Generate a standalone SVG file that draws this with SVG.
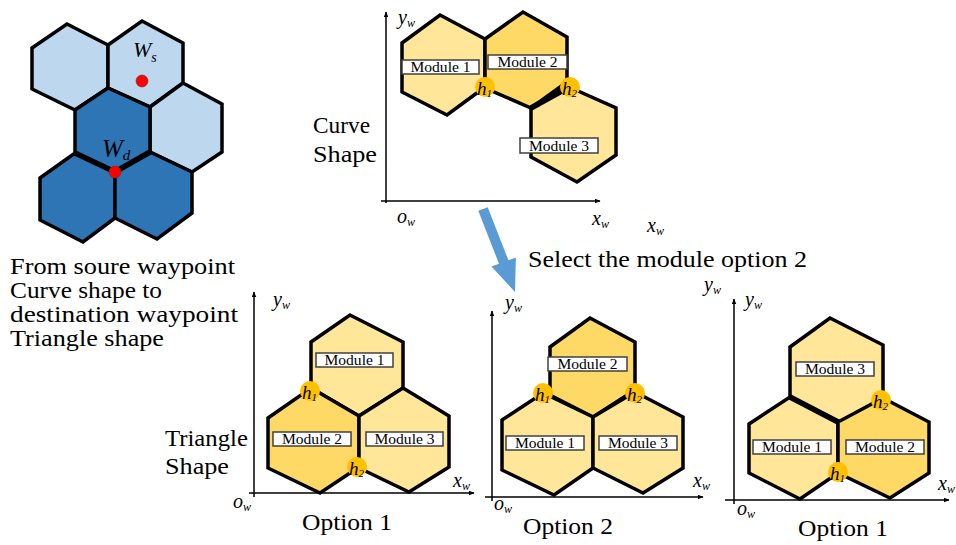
<svg xmlns="http://www.w3.org/2000/svg" width="956" height="545" viewBox="0 0 956 545">
  <style>
    .hexL { fill: #BDD7EE; stroke: #000; stroke-width: 3.5; stroke-linejoin: miter; }
    .hexD { fill: #2E75B6; stroke: #000; stroke-width: 3.5; stroke-linejoin: miter; }
    .modL { fill: #FFE699; stroke: #000; stroke-width: 3.5; stroke-linejoin: miter; }
    .modD { fill: #FFD966; stroke: #000; stroke-width: 3.5; stroke-linejoin: miter; }
    .thick { fill: none; stroke: #000; stroke-width: 5.5; stroke-linejoin: miter; }
    .box { fill: #fff; stroke: #404040; stroke-width: 1.5; }
    text { font-family: 'Liberation Serif', 'DejaVu Serif', serif; fill: #000; }
    .blab { font-size: 15.5px; text-anchor: middle; }
    .hc { fill: #FFC000; }
    .it { font-style: italic; }
    .hl { font-size: 19px; }
    .sub { font-size: 11px; }
    .ax { font-size: 20px; }
    .axs { font-size: 12px; }
    .axis { stroke: #000; stroke-width: 1.5; fill: none; marker-end: url(#tip); }
    .txt { font-size: 23px; }
    .dot { fill: #FF0000; stroke: #7a2a2a; stroke-width: 0.6; }
  </style>
  <defs>
    <marker id="tip" viewBox="0 0 10 8" refX="9" refY="4" markerWidth="6" markerHeight="5" markerUnits="userSpaceOnUse" orient="auto">
      <path d="M0,0 L10,4 L0,8 Z" fill="#000"/>
    </marker>
  </defs>

  <rect width="956" height="545" fill="#fff"/>

  <!-- waypoint map: source and destination cells -->
  <g id="waypoint-map">
    <polygon class="hexL" points="67,24 108,45 108,88 75,110 32,89 32,48"/>
    <polygon class="hexL" points="142,21 183,43 183,83 150,107 108,88 108,45"/>
    <polygon class="hexL" points="183,83 222,104 222,152 192,172 150,152 150,107"/>
    <polygon class="hexD" points="108,88 150,107 150,152 115,172 75,153 75,110"/>
    <polygon class="hexD" points="75,153 115,172 115,218 83,242 40,220 40,178"/>
    <polygon class="hexD" points="150,152 192,172 192,213 157,239 115,218 115,172"/>
    <polyline class="thick" points="75,153 115,172 150,152"/>
    <circle class="dot" cx="142" cy="81" r="6"/>
    <circle class="dot" cx="115" cy="172" r="6"/>
    <text class="it" x="133" y="57" font-size="22">W<tspan font-size="14" dy="5">s</tspan></text>
    <text class="it" x="102" y="157" font-size="25">W<tspan font-size="15" dy="3">d</tspan></text>
  </g>

  <g id="description">
    <text class="txt" x="10" y="274" textLength="225" lengthAdjust="spacingAndGlyphs">From soure waypoint</text>
    <text class="txt" x="10" y="298" textLength="152" lengthAdjust="spacingAndGlyphs">Curve shape to</text>
    <text class="txt" x="10" y="322" textLength="228" lengthAdjust="spacingAndGlyphs">destination waypoint</text>
    <text class="txt" x="10" y="346" textLength="154" lengthAdjust="spacingAndGlyphs">Triangle shape</text>
  </g>

  <!-- curve shape -->
  <g id="curve-shape">
    <line class="axis" x1="386" y1="203" x2="386" y2="12"/>
    <line class="axis" x1="381" y1="201" x2="600" y2="201"/>
    <text class="it ax" x="398" y="24">y<tspan class="axs" dy="3">w</tspan></text>
    <text class="it ax" x="397" y="223">o<tspan class="axs" dy="3">w</tspan></text>
    <text class="it ax" x="592" y="225">x<tspan class="axs" dy="3">w</tspan></text>
    <text class="txt" x="313" y="133" textLength="57" lengthAdjust="spacingAndGlyphs">Curve</text>
    <text class="txt" x="313" y="162" textLength="64" lengthAdjust="spacingAndGlyphs">Shape</text>
    <polygon class="modL" points="440,15 485,39 485,87 447,115 402,92 402,43"/>
    <polygon class="modD" points="485,39 523,12 567,37 567,82 531,108 485,88"/>
    <polygon class="modL" points="569,87 616,108 616,155 577,182 531,157 531,108"/>
    <line class="thick" x1="531" y1="108" x2="569" y2="87"/>
    <rect class="box" x="402" y="60" width="77" height="14"/>
    <text class="blab" x="440.5" y="72" textLength="60" lengthAdjust="spacingAndGlyphs">Module 1</text>
    <rect class="box" x="488" y="55" width="79" height="14"/>
    <text class="blab" x="527.5" y="67" textLength="60" lengthAdjust="spacingAndGlyphs">Module 2</text>
    <rect class="box" x="520" y="138" width="78" height="15"/>
    <text class="blab" x="559" y="150.5" textLength="60" lengthAdjust="spacingAndGlyphs">Module 3</text>
    <circle class="hc" cx="485" cy="87" r="10"/>
    <text class="it hl" x="477" y="95">h<tspan class="sub" dy="2">1</tspan></text>
    <circle class="hc" cx="570" cy="87" r="10"/>
    <text class="it hl" x="562" y="95">h<tspan class="sub" dy="2">2</tspan></text>
  </g>

  <text class="it ax" x="647" y="232">x<tspan class="axs" dy="3">w</tspan></text>
  <text class="txt" x="528" y="267" textLength="279" lengthAdjust="spacingAndGlyphs">Select the module option 2</text>
  <text class="it ax" x="704" y="291">y<tspan class="axs" dy="3">w</tspan></text>

  <!-- triangle shape, option 1 -->
  <g id="option-1-left">
    <line class="axis" x1="254" y1="497" x2="254" y2="292"/>
    <line class="axis" x1="249" y1="493" x2="474" y2="493"/>
    <text class="it ax" x="273" y="306">y<tspan class="axs" dy="3">w</tspan></text>
    <text class="it ax" x="453" y="487">x<tspan class="axs" dy="3">w</tspan></text>
    <text class="it ax" x="233" y="508">o<tspan class="axs" dy="3">w</tspan></text>
    <text class="txt" x="165" y="446" textLength="83" lengthAdjust="spacingAndGlyphs">Triangle</text>
    <text class="txt" x="165" y="474" textLength="64" lengthAdjust="spacingAndGlyphs">Shape</text>
    <polygon class="modL" points="350,315 403,342 403,388 359,416 311,388 311,342"/>
    <polygon class="modD" points="311,388 359,416 359,467 320,493 268,468 268,418"/>
    <polygon class="modL" points="403,388 449,416 449,467 409,492 359,468 359,416"/>
    <rect class="box" x="316" y="353" width="77" height="14"/>
    <text class="blab" x="354.5" y="365" textLength="60" lengthAdjust="spacingAndGlyphs">Module 1</text>
    <rect class="box" x="273" y="432" width="78" height="14"/>
    <text class="blab" x="312" y="444" textLength="60" lengthAdjust="spacingAndGlyphs">Module 2</text>
    <rect class="box" x="366" y="432" width="77" height="14"/>
    <text class="blab" x="404.5" y="444" textLength="60" lengthAdjust="spacingAndGlyphs">Module 3</text>
    <circle class="hc" cx="310" cy="391" r="10"/>
    <text class="it hl" x="302" y="399">h<tspan class="sub" dy="2">1</tspan></text>
    <circle class="hc" cx="357" cy="467" r="10"/>
    <text class="it hl" x="349" y="475">h<tspan class="sub" dy="2">2</tspan></text>
    <text class="txt" x="302" y="530" font-size="24" textLength="90" lengthAdjust="spacingAndGlyphs">Option 1</text>
  </g>

  <!-- triangle shape, option 2 -->
  <g id="option-2">
    <line class="axis" x1="492" y1="501" x2="492" y2="311"/>
    <line class="axis" x1="485" y1="497" x2="703" y2="497"/>
    <text class="it ax" x="505" y="309">y<tspan class="axs" dy="3">w</tspan></text>
    <text class="it ax" x="693" y="487">x<tspan class="axs" dy="3">w</tspan></text>
    <text class="it ax" x="494" y="510">o<tspan class="axs" dy="3">w</tspan></text>
    <polygon class="modD" points="590,318 635,342 635,390 593,417 550,395 550,347"/>
    <polygon class="modL" points="543,393 593,417 593,468 554,495 502,470 502,420"/>
    <polygon class="modL" points="635,392 683,417 683,468 643,493 593,468 593,417"/>
    <rect class="box" x="548" y="357" width="79" height="14"/>
    <text class="blab" x="587.5" y="369" textLength="60" lengthAdjust="spacingAndGlyphs">Module 2</text>
    <rect class="box" x="506" y="436" width="78" height="14"/>
    <text class="blab" x="545" y="448" textLength="60" lengthAdjust="spacingAndGlyphs">Module 1</text>
    <rect class="box" x="599" y="436" width="78" height="14"/>
    <text class="blab" x="638" y="448" textLength="60" lengthAdjust="spacingAndGlyphs">Module 3</text>
    <circle class="hc" cx="543" cy="393" r="10"/>
    <text class="it hl" x="535" y="401">h<tspan class="sub" dy="2">1</tspan></text>
    <circle class="hc" cx="635" cy="393" r="10"/>
    <text class="it hl" x="627" y="401">h<tspan class="sub" dy="2">2</tspan></text>
    <text class="txt" x="523" y="534" font-size="24" textLength="90" lengthAdjust="spacingAndGlyphs">Option 2</text>
  </g>

  <!-- triangle shape, option 1 (alternative ordering) -->
  <g id="option-1-right">
    <line class="axis" x1="734" y1="504" x2="734" y2="299"/>
    <line class="axis" x1="725" y1="500" x2="949" y2="500"/>
    <text class="it ax" x="745" y="306">y<tspan class="axs" dy="3">w</tspan></text>
    <text class="it ax" x="938" y="490">x<tspan class="axs" dy="3">w</tspan></text>
    <text class="it ax" x="737" y="515">o<tspan class="axs" dy="3">w</tspan></text>
    <polygon class="modL" points="830,318 883,345 883,398 840,422 790,397 790,347"/>
    <polygon class="modL" points="790,397 838,422 838,473 800,499 749,473 749,424"/>
    <polygon class="modD" points="883,398 929,422 929,473 890,498 838,473 838,422"/>
    <line class="thick" x1="790" y1="397" x2="838" y2="422"/>
    <rect class="box" x="796" y="362" width="78" height="14"/>
    <text class="blab" x="835" y="374" textLength="60" lengthAdjust="spacingAndGlyphs">Module 3</text>
    <rect class="box" x="753" y="440" width="78" height="14"/>
    <text class="blab" x="792" y="452" textLength="60" lengthAdjust="spacingAndGlyphs">Module 1</text>
    <rect class="box" x="846" y="440" width="78" height="14"/>
    <text class="blab" x="885" y="452" textLength="60" lengthAdjust="spacingAndGlyphs">Module 2</text>
    <circle class="hc" cx="881" cy="400" r="10"/>
    <text class="it hl" x="873" y="408">h<tspan class="sub" dy="2">2</tspan></text>
    <circle class="hc" cx="838" cy="472" r="10"/>
    <text class="it hl" x="830" y="480">h<tspan class="sub" dy="2">1</tspan></text>
    <text class="txt" x="798" y="536" font-size="24" textLength="90" lengthAdjust="spacingAndGlyphs">Option 1</text>
  </g>

  <!-- selection arrow -->
  <g id="connectors">
    <polygon fill="#5B9BD5" points="478.3,210.8 487.7,207.2 508.4,260.2 515.9,257.4 515,292 491.5,266.6 499,263.8"/>
  </g>
</svg>
